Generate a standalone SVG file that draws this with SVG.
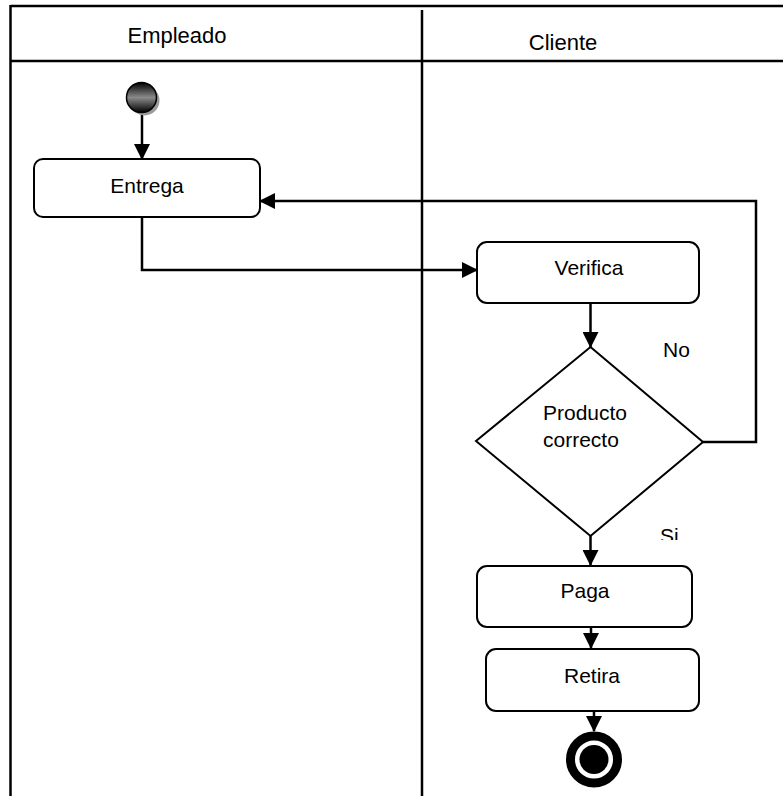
<svg xmlns="http://www.w3.org/2000/svg" width="783" height="796" viewBox="0 0 783 796">
  <style>
    .lane { stroke: #000; stroke-width: 2.5; fill: none; }
    .box { fill: #fff; stroke: #000; stroke-width: 2; }
    .conn { stroke: #000; stroke-width: 2.5; fill: none; }
    .t { font-family: "Liberation Sans", Arial, sans-serif; font-size: 21px; fill: #000; }
    .h { font-family: "Liberation Sans", Arial, sans-serif; font-size: 22px; fill: #000; text-anchor: middle; }
  </style>
  <defs>
    <marker id="arrow" markerWidth="16" markerHeight="16" refX="15" refY="8" orient="auto" markerUnits="userSpaceOnUse">
      <path d="M0,0 L16,8 L0,16 Z" fill="#000"/>
    </marker>
    <linearGradient id="startGrad" x1="0" y1="0" x2="0" y2="1">
      <stop offset="0" stop-color="#000"/>
      <stop offset="0.5" stop-color="#8a8a8a"/>
      <stop offset="1" stop-color="#000"/>
    </linearGradient>
    <clipPath id="siClip">
      <rect x="640" y="500" width="80" height="40"/>
    </clipPath>
  </defs>

  <rect width="783" height="796" fill="#fff"/>

  <g id="swimlanes">
    <line class="lane" x1="10.5" y1="6" x2="783" y2="6"/>
    <line class="lane" x1="10.5" y1="61" x2="783" y2="61"/>
    <line class="lane" x1="10.5" y1="5" x2="10.5" y2="796"/>
    <line class="lane" x1="422" y1="10" x2="422" y2="796"/>
    <text class="h" x="177" y="43">Empleado</text>
    <text class="h" x="563" y="50">Cliente</text>
  </g>

  <g id="connectors">
    <line class="conn" x1="142" y1="112" x2="142" y2="159" marker-end="url(#arrow)"/>
    <polyline class="conn" points="142,217 142,270 477,270" marker-end="url(#arrow)"/>
    <line class="conn" x1="590.5" y1="303" x2="590.5" y2="347" marker-end="url(#arrow)"/>
    <polyline class="conn" points="703,442 756,442 756,201 260,201" marker-end="url(#arrow)"/>
    <line class="conn" x1="590.5" y1="536" x2="590.5" y2="565" marker-end="url(#arrow)"/>
    <line class="conn" x1="591" y1="627" x2="591" y2="648" marker-end="url(#arrow)"/>
    <line class="conn" x1="594" y1="711" x2="594" y2="731" marker-end="url(#arrow)"/>
  </g>

  <g id="start">
    <circle cx="144.5" cy="100.5" r="15" fill="#9a9a9a"/>
    <circle cx="141.5" cy="97.5" r="15" fill="url(#startGrad)" stroke="#000" stroke-width="1.5"/>
  </g>

  <g id="entrega">
    <rect class="box" x="34" y="159" width="226" height="58" rx="9"/>
    <text class="t" x="147" y="193" text-anchor="middle">Entrega</text>
  </g>

  <g id="verifica">
    <rect class="box" x="477" y="242" width="222" height="61" rx="10"/>
    <text class="t" x="589" y="275" text-anchor="middle">Verifica</text>
  </g>

  <g id="decision">
    <polygon class="box" points="590.5,347 703,442 590.5,536 476,441"/>
    <text class="t" x="543" y="420">Producto</text>
    <text class="t" x="543" y="447">correcto</text>
    <text class="t" x="663" y="357">No</text>
    <text class="t" x="660" y="543" clip-path="url(#siClip)">Si</text>
  </g>

  <g id="paga">
    <rect class="box" x="477" y="566" width="215" height="61" rx="10"/>
    <text class="t" x="585" y="598" text-anchor="middle">Paga</text>
  </g>

  <g id="retira">
    <rect class="box" x="486" y="649" width="213" height="62" rx="10"/>
    <text class="t" x="592" y="683" text-anchor="middle">Retira</text>
  </g>

  <g id="end">
    <circle cx="594" cy="759.5" r="23.5" fill="#fff" stroke="#000" stroke-width="9"/>
    <circle cx="594" cy="759.5" r="14.5" fill="#000"/>
  </g>
</svg>
